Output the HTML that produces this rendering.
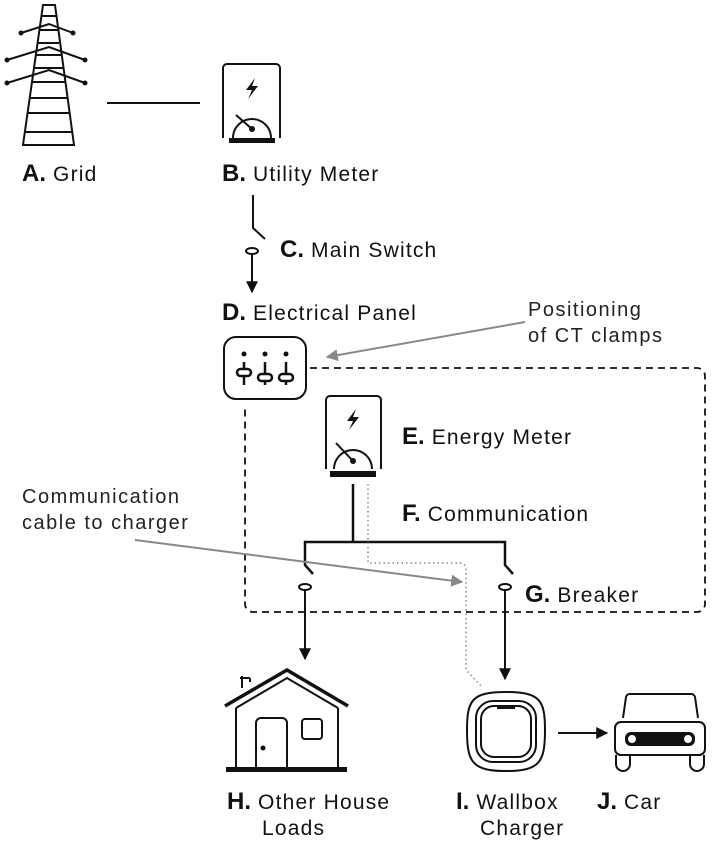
<!DOCTYPE html>
<html><head><meta charset="utf-8"><style>
html,body{margin:0;padding:0;background:#fff;}
svg{display:block;}
text{font-family:"Liberation Sans",sans-serif;fill:#111;}
.l{font-size:21px;letter-spacing:1.2px;}
.b{font-weight:900;font-size:24px;letter-spacing:0;}
.n{font-size:20px;letter-spacing:1.5px;fill:#222;}
</style></head><body>
<svg width="712" height="845" viewBox="0 0 712 845" xmlns="http://www.w3.org/2000/svg">
<defs>
<marker id="ab" viewBox="0 0 10 10" refX="9" refY="5" markerWidth="6" markerHeight="6" orient="auto"><path d="M0,0L10,5L0,10z" fill="#111"/></marker>
<marker id="ag" viewBox="0 0 10 10" refX="9" refY="5" markerWidth="6" markerHeight="6" orient="auto"><path d="M0,0L10,5L0,10z" fill="#888"/></marker>
</defs>
<g stroke="#111" stroke-width="2" fill="none">
<path d="M43,5 L55,5 L74,145 L23,145 Z"/>
<path d="M42,16h14 M40,30h18 M37,43h22 M35,55h27 M33,68h31 M31,82h35 M29,98h39 M27,113h43 M25,132h47"/>
<path d="M21,33 L49,24 L73,33 M7,60 L49,47 L85,60 M7,83 L49,70 L85,83"/>
</g>
<g fill="#111"><circle cx="21" cy="33" r="2.5"/><circle cx="73" cy="33" r="2.5"/><circle cx="7" cy="60" r="2.5"/><circle cx="85" cy="60" r="2.5"/><circle cx="7" cy="83" r="2.5"/><circle cx="85" cy="83" r="2.5"/></g>
<line x1="107" y1="103" x2="200" y2="103" stroke="#111" stroke-width="2"/>
<g stroke="#111" stroke-width="2" fill="none">
<path d="M223,138 V68 a4,4 0 0 1 4,-4 H276 a4,4 0 0 1 4,4 V138"/>
<path d="M233,138 A19,19 0 1 1 271,138"/>
<line x1="236" y1="115" x2="252" y2="129"/>
</g>
<rect x="229" y="138" width="46" height="5" fill="#111"/>
<circle cx="252" cy="129" r="3" fill="#111"/>
<path d="M255,78 L246,90 L252,90 L248,99 L258,86 L252,86 Z" fill="#111"/>
<text x="22" y="181" class="l"><tspan class="b">A.</tspan> Grid</text>
<text x="222" y="181" class="l"><tspan class="b">B.</tspan> Utility Meter</text>
<path d="M253,195 V228 L265,239" stroke="#111" stroke-width="2" fill="none"/>
<ellipse cx="252" cy="251" rx="6" ry="3" stroke="#111" stroke-width="2" fill="#fff"/>
<line x1="252" y1="254" x2="252" y2="292" stroke="#111" stroke-width="2" marker-end="url(#ab)"/>
<text x="280" y="257" class="l"><tspan class="b">C.</tspan> Main Switch</text>
<text x="222" y="320" class="l"><tspan class="b">D.</tspan> Electrical Panel</text>
<text x="528" y="316" class="n">Positioning</text>
<text x="528" y="342" class="n">of CT clamps</text>
<rect x="224" y="337" width="82" height="62" rx="12" stroke="#111" stroke-width="2" fill="none"/>
<g fill="#111"><circle cx="244" cy="354" r="2.5"/><circle cx="265" cy="354" r="2.5"/><circle cx="286" cy="354" r="2.5"/></g>
<g stroke="#111" stroke-width="2.5" fill="#fff">
<line x1="244" y1="362" x2="244" y2="385"/><line x1="265" y1="362" x2="265" y2="385"/><line x1="286" y1="362" x2="286" y2="385"/>
<rect x="237" y="369" width="14" height="7" rx="3.5"/><rect x="258" y="374" width="14" height="7" rx="3.5"/><rect x="279" y="374" width="14" height="7" rx="3.5"/>
</g>
<line x1="525" y1="322" x2="327" y2="357" stroke="#888" stroke-width="2" marker-end="url(#ag)"/>
<path d="M310,368 H697 a8,8 0 0 1 8,8 V604 a8,8 0 0 1 -8,8 H253 a8,8 0 0 1 -8,-8 V408" stroke="#111" stroke-width="1.8" fill="none" stroke-dasharray="7,5"/>
<g stroke="#111" stroke-width="2" fill="none">
<path d="M326,469 V400 a4,4 0 0 1 4,-4 H377 a4,4 0 0 1 4,4 V469"/>
<path d="M334,469 A19,19 0 1 1 372,469"/>
<line x1="336" y1="443" x2="353" y2="461"/>
</g>
<rect x="330" y="471" width="46" height="6" fill="#111"/>
<circle cx="353" cy="461" r="3" fill="#111"/>
<path d="M356,409 L347,421 L353,421 L349,430 L359,417 L353,417 Z" fill="#111"/>
<text x="402" y="444" class="l"><tspan class="b">E.</tspan> Energy Meter</text>
<text x="402" y="521" class="l"><tspan class="b">F.</tspan> Communication</text>
<text x="525" y="602" class="l"><tspan class="b">G.</tspan> Breaker</text>
<g stroke="#111" stroke-width="2.5" fill="none">
<path d="M353,484 V542"/>
<path d="M313,574 L305,565 V542 H505 V565 L513,574"/>
</g>
<ellipse cx="305" cy="587" rx="6" ry="3" stroke="#111" stroke-width="2" fill="#fff"/>
<ellipse cx="505" cy="587" rx="6" ry="3" stroke="#111" stroke-width="2" fill="#fff"/>
<line x1="305" y1="590" x2="305" y2="659" stroke="#111" stroke-width="2" marker-end="url(#ab)"/>
<line x1="505" y1="590" x2="505" y2="679" stroke="#111" stroke-width="2" marker-end="url(#ab)"/>
<path d="M368,484 V563 H460 a6,6 0 0 1 6,6 V670 L481,686" stroke="#999" stroke-width="1.8" fill="none" stroke-dasharray="1.5,3"/>
<text x="22" y="503" class="n">Communication</text>
<text x="22" y="529" class="n">cable to charger</text>
<line x1="135" y1="540" x2="462" y2="582" stroke="#888" stroke-width="2" marker-end="url(#ag)"/>
<g stroke="#111" stroke-width="2" fill="none">
<path d="M225,706 L287,670 L348,706" stroke-width="3.5"/>
<path d="M236,708 L287,678 L338,708"/>
<path d="M236,708 V768 M338,708 V768"/>
<path d="M242,688 V676 M240,678 h10 M250,678 V682"/>
<path d="M256,768 V723 a5,5 0 0 1 5,-5 H282 a5,5 0 0 1 5,5 V768"/>
<rect x="302" y="719" width="20" height="20" rx="3"/>
</g>
<rect x="226" y="767" width="121" height="5" fill="#111"/>
<circle cx="263" cy="748" r="2.5" fill="#111"/>
<g stroke="#111" stroke-width="2" fill="none">
<path d="M506,692 C540,692 545,700 545,730 C545,762 540,771 506,771 C472,771 467,762 467,730 C467,700 472,692 506,692Z"/>
<rect x="476" y="701" width="60" height="61" rx="17"/>
<rect x="481" y="706" width="50" height="51" rx="13"/>
</g>
<rect x="497" y="706" width="18" height="3" fill="#111"/>
<line x1="558" y1="733" x2="607" y2="733" stroke="#111" stroke-width="2" marker-end="url(#ab)"/>
<g stroke="#111" stroke-width="2" fill="none">
<path d="M623,718 L626,697 a4,4 0 0 1 4,-3 H691 a4,4 0 0 1 4,3 L698,718"/>
<rect x="615" y="722" width="90" height="33" rx="6"/>
<path d="M616,755 V764 a7,7 0 0 0 14,0 V755 M690,755 V764 a7,7 0 0 0 14,0 V755"/>
</g>
<rect x="625" y="732" width="70" height="14" rx="6" fill="#111"/>
<circle cx="632" cy="739" r="5" fill="#fff" stroke="#111" stroke-width="2"/>
<circle cx="688" cy="739" r="5" fill="#fff" stroke="#111" stroke-width="2"/>
<text x="227" y="809" class="l"><tspan class="b">H.</tspan> Other House</text>
<text x="262" y="835" class="l">Loads</text>
<text x="456" y="809" class="l"><tspan class="b">I.</tspan> Wallbox</text>
<text x="480" y="835" class="l">Charger</text>
<text x="597" y="809" class="l"><tspan class="b">J.</tspan> Car</text>
</svg>
</body></html>
